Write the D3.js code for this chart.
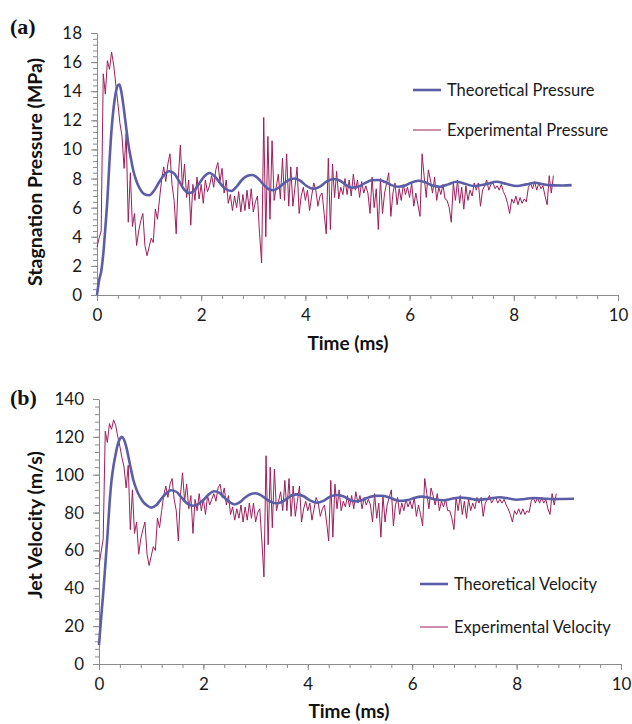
<!DOCTYPE html>
<html><head><meta charset="utf-8">
<script src="https://cdn.jsdelivr.net/npm/d3@7"></script>
<style>
body{margin:0;background:#fff;}
svg{display:block;}
</style></head>
<body>
<svg id="chart" width="632" height="724"></svg>
<script>
// ---------- DATA ----------
const xTicks = [0, 2, 4, 6, 8, 10];
const pTicks = [0, 2, 4, 6, 8, 10, 12, 14, 16, 18];
const vTicks = [0, 20, 40, 60, 80, 100, 120, 140];

// Theoretical curves (time in ms)
const theoPT = [0,0.04,0.08,0.12,0.16,0.2,0.24,0.28,0.32,0.36,0.4,0.43,0.46,0.5,0.55,0.6,0.65,0.7,0.75,0.8,0.85,0.9,1.0,1.1,1.2,1.3,1.38,1.48,1.58,1.68,1.76,1.86,1.96,2.06,2.16,2.26,2.36,2.46,2.58,2.68,2.78,2.88,2.98,3.08,3.18,3.28,3.38,3.48,3.58,3.68,3.79,3.9,4.02,4.15,4.28,4.41,4.54,4.67,4.78,4.89,5.02,5.15,5.27,5.4,5.52,5.65,5.78,5.9,6.03,6.17,6.3,6.44,6.58,6.74,6.9,7.06,7.22,7.45,7.67,7.86,8.06,8.24,8.41,8.58,8.76,8.94,9.11];
const theoP  = [0,1.0,1.6,2.8,4.6,6.6,9.2,11.4,12.9,13.9,14.4,14.45,14.1,13.2,11.8,10.4,9.4,8.5,7.9,7.45,7.15,6.95,6.85,7.2,7.8,8.3,8.5,8.35,7.8,7.2,7.0,7.15,7.65,8.15,8.38,8.15,7.7,7.3,7.15,7.45,7.9,8.17,8.24,8.05,7.65,7.3,7.2,7.35,7.65,7.9,8.0,7.85,7.5,7.3,7.45,7.8,7.97,7.85,7.55,7.37,7.45,7.7,7.88,7.9,7.78,7.55,7.44,7.5,7.72,7.85,7.75,7.52,7.44,7.6,7.78,7.65,7.49,7.6,7.78,7.62,7.49,7.6,7.71,7.6,7.53,7.52,7.55];

const theoVT = [0,0.04,0.08,0.12,0.16,0.2,0.24,0.28,0.32,0.36,0.4,0.44,0.48,0.52,0.56,0.6,0.66,0.72,0.79,0.85,0.91,1.0,1.1,1.2,1.3,1.38,1.48,1.58,1.68,1.8,1.9,2.0,2.1,2.2,2.3,2.4,2.5,2.6,2.7,2.8,2.9,3.0,3.1,3.2,3.3,3.4,3.5,3.6,3.7,3.8,3.92,4.04,4.17,4.3,4.42,4.55,4.68,4.8,4.9,5.02,5.15,5.28,5.42,5.55,5.68,5.8,5.92,6.05,6.18,6.3,6.45,6.6,6.76,6.92,7.08,7.25,7.47,7.68,7.85,8.0,8.16,8.32,8.5,8.7,8.9,9.1];
const theoV  = [10,24,37,52,67,84,97,105,111,116,119,120,118.5,115,110,104.5,97,92,88,85.5,84,82.6,84,87.5,90.5,91.8,91,88,85,83.6,84.5,86.6,89.5,91.3,90.5,88,85.5,84.3,85.5,88,89.7,90.2,89.2,87.2,85.5,84.9,85.6,87.4,89.1,89.6,88.6,86.4,85.2,86.2,88.3,89.3,88.6,86.8,85.9,86.4,87.9,88.8,88.9,88.1,86.7,86.2,86.6,87.8,88.4,88,86.9,86.5,87.3,88,87.5,86.7,87.3,88.1,87.4,86.8,87.2,87.7,87.4,87.1,87.2,87.3];

// Experimental samples, one every expStep ms from 0
const expStep = 0.04;
const expP = [
 3.3,3.9,4.4,15.2,13.8,16.1,15.5,16.7,15.8,14.5,
 13.2,11.8,10.9,8.7,11.1,5.0,8.4,4.7,5.6,3.4,
 4.4,5.1,5.6,3.4,2.7,3.3,3.9,3.6,5.9,5.2,
 6.6,7.9,8.8,7.8,9.0,9.7,7.6,6.5,4.2,8.0,
 10.3,7.4,9.0,6.7,7.9,4.8,7.6,6.5,8.1,6.6,
 7.6,6.3,7.9,7.1,7.5,8.2,7.4,8.6,9.1,7.8,
 8.7,7.0,7.9,6.3,6.9,5.8,6.8,6.0,7.1,5.7,
 6.9,5.8,7.2,5.9,7.3,5.7,6.4,6.8,4.2,2.2,
 12.2,4.0,10.9,5.2,10.6,6.5,7.4,8.3,6.6,9.4,
 6.5,9.7,6.1,8.8,6.1,7.4,8.8,5.6,6.8,7.4,
 6.5,7.2,5.8,6.8,7.7,7.2,6.1,6.8,7.0,5.6,
 4.2,9.4,4.5,9.0,6.7,8.5,6.6,7.4,6.9,8.0,
 6.9,7.9,6.8,8.3,7.2,7.9,6.7,7.8,7.0,7.5,
 7.0,5.6,8.1,6.0,7.3,4.5,8.0,5.6,7.0,7.7,
 8.4,5.4,7.0,7.7,6.2,7.3,6.5,7.6,6.9,7.4,
 6.7,7.7,6.1,7.0,6.2,5.4,9.7,8.1,6.7,8.6,
 7.9,7.0,8.1,6.5,7.4,6.9,7.6,6.6,6.5,6.0,
 5.0,7.7,6.5,7.9,6.3,7.4,5.9,7.5,6.5,7.2,
 6.8,7.7,7.2,7.7,6.1,7.2,7.5,7.9,7.2,7.6,
 7.7,7.3,7.5,7.2,7.6,7.1,6.8,6.3,5.6,6.6,
 6.3,6.8,6.2,6.7,6.3,6.6,6.4,7.4,7.7,7.3,
 7.8,7.2,7.7,7.3,7.5,6.8,6.2,8.2,7.0,8.2];
const expV = [
 52,59,66,123,117,127,124,129,126,120,
 115,109,104,93,105,71,92,69,75,58,
 66,71,75,58,52,57,62,60,77,72,
 81,89,94,88,95,98,87,81,65,89,
 101,86,95,82,89,69,87,81,90,81,
 87,79,89,84,87,90,86,93,95,88,
 93,84,89,79,83,76,82,77,84,75,
 83,76,85,77,85,75,80,82,65,46,
 110,63,104,72,103,81,86,91,81,97,
 81,98,78,94,78,86,94,75,82,86,
 81,85,76,82,88,85,78,82,84,75,
 65,97,67,95,82,92,81,86,83,89,
 83,89,82,91,85,89,82,88,84,87,
 84,75,90,77,85,67,89,75,84,88,
 92,73,84,88,79,85,81,87,83,86,
 82,88,78,84,79,73,98,90,82,93,
 89,84,90,81,86,83,87,81,81,77,
 71,88,81,89,79,86,77,87,81,85,
 82,88,85,88,78,85,87,89,85,87,
 88,85,87,85,87,84,82,79,75,81,
 79,82,79,82,79,81,80,86,88,85,
 88,85,88,85,87,82,79,90,84,90];

// ---------- STYLE ----------
const theoColor = "#5b5ea6";
const expColor = "#9c1f5c";
const axisColor = "#8a8a8a";
const fontUI = 'Lato, "Open Sans", sans-serif';

const svg = d3.select("#chart");

function panel(cfg) {
  const g = svg.append("g");
  const x = d3.scaleLinear().domain([0, 10]).range([cfg.x0, cfg.x1]);
  const y = d3.scaleLinear().domain([0, cfg.ymax]).range([cfg.y0, cfg.y1]);

  // minor ticks
  const xMinor = d3.range(0, 10.001, 0.4).map(v => +v.toFixed(2));
  const yMinor = d3.range(0, cfg.ymax + 1e-6, cfg.yminor).map(v => +v.toFixed(2));
  g.append("g").attr("transform", `translate(0,${cfg.y0})`)
    .call(d3.axisBottom(x).tickValues(xMinor).tickSize(4).tickFormat(""))
    .call(s => s.select(".domain").remove())
    .selectAll("line").attr("stroke", axisColor);
  g.append("g").attr("transform", `translate(${cfg.x0},0)`)
    .call(d3.axisLeft(y).tickValues(yMinor).tickSize(4).tickFormat(""))
    .call(s => s.select(".domain").remove())
    .selectAll("line").attr("stroke", axisColor);

  // major axes
  const xa = g.append("g").attr("transform", `translate(0,${cfg.y0})`)
    .call(d3.axisBottom(x).tickValues(xTicks).tickSizeInner(6).tickSizeOuter(0).tickPadding(8).tickFormat(d3.format("d")));
  const ya = g.append("g").attr("transform", `translate(${cfg.x0},0)`)
    .call(d3.axisLeft(y).tickValues(cfg.yticks).tickSizeInner(6).tickSizeOuter(0).tickPadding(9).tickFormat(d3.format("d")));
  [xa, ya].forEach(a => {
    a.select(".domain").attr("stroke", axisColor);
    a.selectAll("line").attr("stroke", axisColor);
    a.selectAll("text").attr("font-family", fontUI).attr("font-size", 17).attr("fill", "#1a1a1a");
  });

  // series
  const expLine = d3.line().x((d, i) => x(i * expStep)).y(d => y(d));
  g.append("path").datum(cfg.exp).attr("d", expLine)
    .attr("fill", "none").attr("stroke", expColor).attr("stroke-width", 1).attr("stroke-linejoin", "round");
  const theoLine = d3.line().x((d, i) => x(cfg.theoT[i])).y(d => y(d)).curve(d3.curveMonotoneX);
  g.append("path").datum(cfg.theo).attr("d", theoLine)
    .attr("fill", "none").attr("stroke", theoColor).attr("stroke-width", 2.6).attr("stroke-linejoin", "round");

  // axis titles
  g.append("text").attr("x", cfg.xTitleX).attr("y", cfg.xTitleY).attr("text-anchor", "middle")
    .attr("font-family", fontUI).attr("font-weight", "bold").attr("font-size", 19).attr("fill", "#111")
    .text("Time (ms)");
  g.append("text").attr("transform", `translate(${cfg.yTitleX},${cfg.yTitleY}) rotate(-90)`)
    .attr("text-anchor", "middle")
    .attr("font-family", fontUI).attr("font-weight", "bold").attr("font-size", 19.5).attr("fill", "#111")
    .text(cfg.yTitle);

  // panel letter
  g.append("text").attr("x", cfg.letterX).attr("y", cfg.letterY)
    .attr("font-family", '"Liberation Serif", "DejaVu Serif", serif').attr("font-weight", "bold")
    .attr("font-size", 22).attr("fill", "#111").text(cfg.letter);

  // legend
  cfg.legend.forEach((L, i) => {
    const ly = cfg.legY + i * cfg.legGap;
    g.append("line").attr("x1", cfg.legX).attr("x2", cfg.legX + 28).attr("y1", ly).attr("y2", ly)
      .attr("stroke", L.color).attr("stroke-width", L.w);
    g.append("text").attr("x", cfg.legX + 34).attr("y", ly + 6)
      .attr("font-family", fontUI).attr("font-size", 16.5).attr("fill", "#1a1a1a").text(L.label);
  });
}

panel({
  x0: 97, x1: 618, y0: 295, y1: 33, ymax: 18, yminor: 0.4, yticks: pTicks,
  exp: expP, theo: theoP, theoT: theoPT,
  xTitleX: 348, xTitleY: 350, yTitleX: 42, yTitleY: 172, yTitle: "Stagnation Pressure (MPa)",
  letter: "(a)", letterX: 10, letterY: 34,
  legX: 413, legY: 90, legGap: 40,
  legend: [{label: "Theoretical Pressure", color: theoColor, w: 2.6},
           {label: "Experimental Pressure", color: expColor, w: 1}]
});

panel({
  x0: 99, x1: 621, y0: 664, y1: 399, ymax: 140, yminor: 4, yticks: vTicks,
  exp: expV, theo: theoV, theoT: theoVT,
  xTitleX: 349, xTitleY: 718, yTitleX: 42, yTitleY: 525, yTitle: "Jet Velocity (m/s)",
  letter: "(b)", letterX: 10, letterY: 405,
  legX: 420, legY: 584, legGap: 43,
  legend: [{label: "Theoretical Velocity", color: theoColor, w: 2.6},
           {label: "Experimental Velocity", color: expColor, w: 1}]
});
</script>
</body></html>
